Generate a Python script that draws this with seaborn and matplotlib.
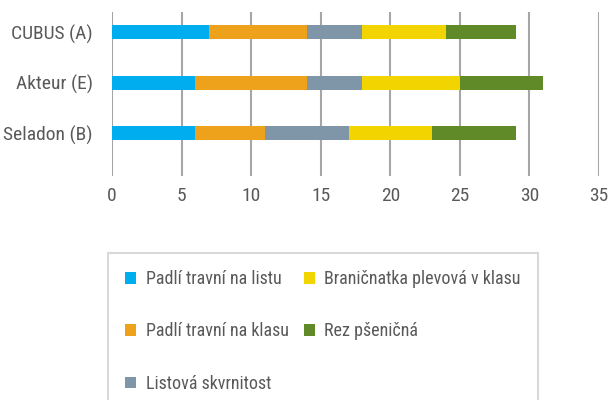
import matplotlib
matplotlib.use("Agg")
import matplotlib.pyplot as plt
import seaborn as sns
import numpy as np
import pandas as pd
from matplotlib.patches import Patch

# ---- data ----
varieties = ["CUBUS (A)", "Akteur (E)", "Seladon (B)"]
series_names = [
    "Padlí travní na listu",
    "Padlí travní na klasu",
    "Listová skvrnitost",
    "Braničnatka plevová v klasu",
    "Rez pšeničná",
]
padli_listu = [7, 6, 6]
padli_klasu = [7, 8, 5]
listova_skvrnitost = [4, 4, 6]
branicnatka = [6, 7, 6]
rez_psenicna = [5, 6, 6]
xticks = [0, 5, 10, 15, 20, 25, 30, 35]

colors = ["#00AEEF", "#EEA11B", "#7F96A8", "#F2D500", "#608A28"]
text_color = "#595959"
fs = 14
lfs = 13

sns.set_theme(style="white")
plt.rcParams["font.family"] = ["Roboto Condensed", "Liberation Sans", "DejaVu Sans"]

values = [padli_listu, padli_klasu, listova_skvrnitost, branicnatka, rez_psenicna]
cum = np.cumsum(np.array(values, dtype=float), axis=0)

fig = plt.figure(figsize=(6.09, 4.00), dpi=100)
ax = fig.add_axes([112 / 609, 1 - 176 / 400, 487 / 609, 164 / 400])

for i in range(len(series_names) - 1, -1, -1):
    df = pd.DataFrame({"variety": varieties, "value": cum[i]})
    sns.barplot(data=df, x="value", y="variety", color=colors[i], width=0.28,
                saturation=1, ax=ax, orient="h", errorbar=None, zorder=3,
                linewidth=0, edgecolor="none")

ax.set_xlim(0, 35)
ax.set_ylim(2.85, -0.40)
ax.set_xticks(xticks)
ax.set_xticklabels([str(t) for t in xticks])
ax.set_xlabel("")
ax.set_ylabel("")
for s in ax.spines.values():
    s.set_visible(False)
ax.grid(axis="x", color="#A6A6A8", linewidth=1.5, zorder=0)
ax.grid(axis="y", visible=False)
ax.set_axisbelow(True)
ax.tick_params(axis="x", length=0, pad=8, labelsize=fs, labelcolor=text_color)
ax.tick_params(axis="y", length=0, pad=14, labelsize=fs, labelcolor=text_color)

handles = [Patch(facecolor=c, edgecolor="none") for c in colors]
leg = fig.legend(handles, series_names, loc="upper left",
                 bbox_to_anchor=(108 / 609, 1 - 253 / 400), bbox_transform=fig.transFigure,
                 ncol=2, frameon=True, fontsize=lfs, labelcolor=text_color,
                 borderaxespad=0, borderpad=0.95, labelspacing=1.9,
                 handlelength=0.61, handleheight=0.61, handletextpad=0.55,
                 columnspacing=0.8, fancybox=False)
leg.get_frame().set_edgecolor("#D0D0D0")
leg.get_frame().set_linewidth(1.5)

fig.savefig("out.png", dpi=100)
